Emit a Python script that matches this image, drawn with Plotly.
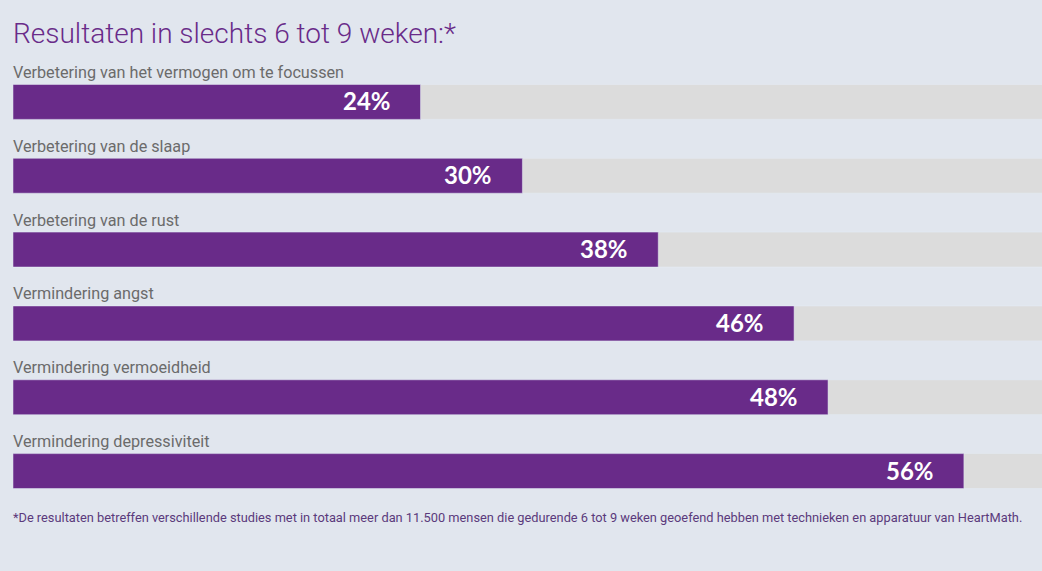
import plotly.graph_objects as go

labels = [
    "Verbetering van het vermogen om te focussen",
    "Verbetering van de slaap",
    "Verbetering van de rust",
    "Vermindering angst",
    "Vermindering vermoeidheid",
    "Vermindering depressiviteit",
]
values = [24, 30, 38, 46, 48, 56]
track = [100, 100, 100, 100, 100, 100]

title = "Resultaten in slechts 6 tot 9 weken:*"
footnote = ("*De resultaten betreffen verschillende studies met in totaal meer dan 11.500 mensen "
            "die gedurende 6 tot 9 weken geoefend hebben met technieken en apparatuur van HeartMath.")

purple = "#692b89"
bg = "#e1e6ee"

fig = go.Figure()
# grey track behind each bar
fig.add_trace(go.Bar(x=track, y=labels, orientation="h", marker_color="#dcdcdc",
                     width=0.473, hoverinfo="skip"))
fig.add_trace(go.Bar(x=values, y=labels, orientation="h", marker_color=purple,
                     width=0.473, hoverinfo="skip"))

for lab, v in zip(labels, values):
    fig.add_annotation(x=0, y=lab, text=lab, showarrow=False, xanchor="left",
                       yanchor="middle", yshift=29.5, xshift=-2,
                       font=dict(family="Roboto", size=16.2, color="#6b6b6b"))
    fig.add_annotation(x=v, y=lab, text=f"<b>{v}%</b>", showarrow=False,
                       xanchor="right", yanchor="middle", xshift=-28, yshift=1,
                       font=dict(family="Lato", size=24, color="white"))

fig.add_annotation(xref="paper", yref="paper", x=0, y=0, text=footnote,
                   showarrow=False, xanchor="left", yanchor="middle", yshift=-9.5, xshift=-2,
                   font=dict(family="Roboto", size=12.8, color="#5b3a7c"))

fig.update_layout(
    width=1042, height=571,
    barmode="overlay", showlegend=False,
    paper_bgcolor=bg, plot_bgcolor=bg,
    title=dict(text=title, x=0, xref="paper", xanchor="left", yref="container",
               yanchor="middle", pad=dict(t=0),
               font=dict(family="Roboto", size=28, weight=300, color=purple)),
    margin=dict(l=13, r=0, t=64.5, b=62.5),
    xaxis=dict(range=[0, 60.6], visible=False, fixedrange=True),
    yaxis=dict(range=[5.5, -0.5], visible=False, fixedrange=True),
)
fig.layout.title.y = 1 - 33 / 571

fig.write_html("out.html", config={"displayModeBar": False},
               post_script="document.body.style.margin='0';")
